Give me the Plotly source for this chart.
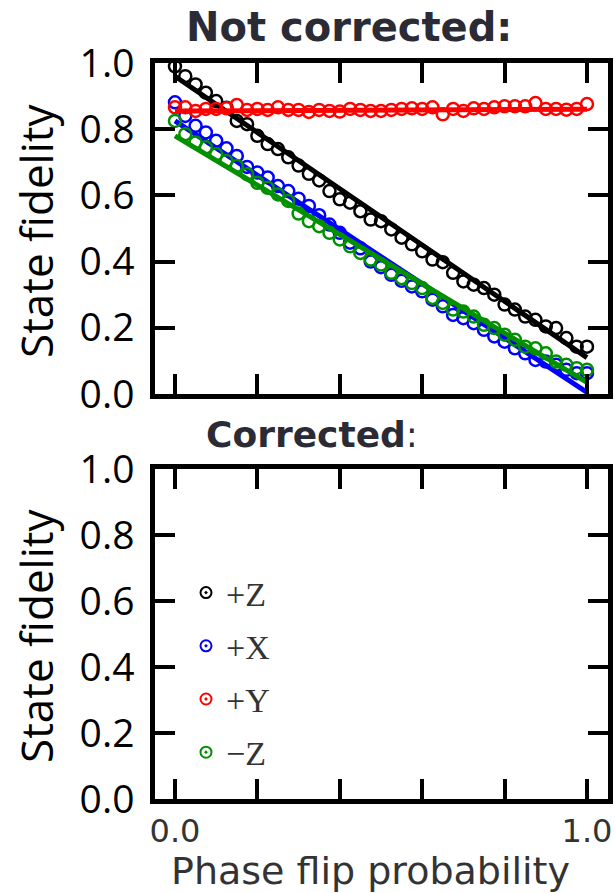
import plotly.graph_objects as go

# ---------------- data ----------------
phase_flip = [i * 0.025 for i in range(41)]  # 0.0 ... 1.0

fid_plus_z = [0.99, 0.96, 0.935, 0.91, 0.885, 0.865, 0.825, 0.815, 0.78, 0.755,
              0.74, 0.715, 0.69, 0.665, 0.645, 0.613, 0.588, 0.578, 0.552, 0.527,
              0.522, 0.497, 0.472, 0.452, 0.431, 0.406, 0.398, 0.366, 0.34, 0.33,
              0.32, 0.30, 0.27, 0.255, 0.234, 0.224, 0.204, 0.199, 0.169, 0.143, 0.143]

fid_plus_x = [0.881, 0.84, 0.81, 0.79, 0.765, 0.742, 0.719, 0.686, 0.669, 0.654,
              0.628, 0.613, 0.59, 0.568, 0.54, 0.512, 0.487, 0.457, 0.44, 0.40,
              0.383, 0.36, 0.342, 0.325, 0.31, 0.285, 0.265, 0.239, 0.229, 0.214,
              0.194, 0.174, 0.158, 0.138, 0.123, 0.103, 0.098, 0.088, 0.073, 0.063, 0.063]

fid_plus_y = [0.866, 0.866, 0.855, 0.861, 0.861, 0.863, 0.873, 0.858, 0.861, 0.858,
              0.866, 0.858, 0.858, 0.852, 0.858, 0.855, 0.853, 0.861, 0.858, 0.855,
              0.855, 0.858, 0.861, 0.863, 0.861, 0.866, 0.845, 0.861, 0.855, 0.863,
              0.861, 0.866, 0.869, 0.869, 0.869, 0.879, 0.861, 0.861, 0.859, 0.861, 0.876]

fid_minus_z = [0.825, 0.785, 0.76, 0.745, 0.724, 0.704, 0.689, 0.664, 0.638, 0.623,
               0.603, 0.583, 0.545, 0.522, 0.507, 0.487, 0.467, 0.446, 0.426, 0.406,
               0.391, 0.366, 0.35, 0.335, 0.32, 0.29, 0.275, 0.255, 0.249, 0.234,
               0.209, 0.199, 0.179, 0.164, 0.143, 0.138, 0.123, 0.098, 0.088, 0.078, 0.073]

# fitted lines (end points)
fit_x = [0.0, 1.0]
fit_plus_z = [0.96, 0.11]
fit_plus_x = [0.825, 0.005]
fit_plus_y = [0.855, 0.860]
fit_minus_z = [0.78, 0.035]

series_names = ["+Z", "+X", "+Y", "\u2212Z"]
series_colors = ["#000000", "#0000ff", "#ff0000", "#009000"]
points = [fid_plus_z, fid_plus_x, fid_plus_y, fid_minus_z]
fits = [fit_plus_z, fit_plus_x, fit_plus_y, fit_minus_z]

y_ticks = [0.0, 0.2, 0.4, 0.6, 0.8, 1.0]
y_ticktext = ["0.0", "0.2", "0.4", "0.6", "0.8", "1.0"]
x_ticks = [0.0, 0.2, 0.4, 0.6, 0.8, 1.0]
x_ticktext = ["0.0", "", "", "", "", "1.0"]

# ---------------- figure ----------------
fig = go.Figure()

for name, col, pts, ft in zip(series_names, series_colors, points, fits):
    fig.add_trace(go.Scatter(
        x=phase_flip, y=pts, mode="markers", xaxis="x", yaxis="y",
        marker=dict(symbol="circle-open", size=12, color=col, line=dict(width=2.5, color=col)),
        showlegend=False, cliponaxis=False, hoverinfo="skip"))
    fig.add_trace(go.Scatter(
        x=fit_x, y=ft, mode="lines", xaxis="x", yaxis="y",
        line=dict(color=col, width=5), showlegend=False, hoverinfo="skip"))

# legend entries (shown in the lower "Corrected" panel)
for name, col in zip(series_names, series_colors):
    fig.add_trace(go.Scatter(
        x=[None], y=[None], mode="markers", xaxis="x2", yaxis="y2", name=name,
        legendgroup=name,
        marker=dict(symbol="circle-open-dot", size=11, color=col, line=dict(width=2, color=col)),
        showlegend=True))

axis_common = dict(
    showline=True, linewidth=4.5, linecolor="black", mirror="allticks",
    ticks="inside", ticklen=20, tickwidth=4, tickcolor="black",
    showgrid=False, zeroline=False, automargin=False,
)

x_range = [-0.0485, 1.051]
x_dom = [155 / 615, 608 / 615]

fig.update_layout(
    width=615, height=893,
    margin=dict(l=0, r=0, t=0, b=0, autoexpand=False),
    paper_bgcolor="white", plot_bgcolor="white",
    xaxis=dict(domain=x_dom, range=x_range, anchor="y", tickvals=x_ticks,
               showticklabels=False, **axis_common),
    yaxis=dict(domain=[0.5588, 0.9295], range=[0, 1], anchor="x", tickvals=y_ticks,
               ticktext=y_ticktext, ticklabelstandoff=8,
               tickfont=dict(family="Open Sans", size=39, color="black"), **axis_common),
    xaxis2=dict(domain=x_dom, range=x_range, anchor="y2", tickvals=x_ticks,
                ticktext=x_ticktext, ticklabelstandoff=0,
                tickfont=dict(family="DejaVu Sans", size=32, color="#333333"), **axis_common),
    yaxis2=dict(domain=[0.1053, 0.4748], range=[0, 1], anchor="x2", tickvals=y_ticks,
                ticktext=y_ticktext, ticklabelstandoff=8,
                tickfont=dict(family="Open Sans", size=39, color="black"), **axis_common),
    legend=dict(x=186 / 615, y=(893 - 564) / 893, xanchor="left", yanchor="top",
                bgcolor="rgba(0,0,0,0)", borderwidth=0, tracegroupgap=6,
                font=dict(family="Liberation Serif", size=34, color="#333333")),
    showlegend=True,
)

title_color = "#2b2b35"
fig.add_annotation(text="<b>Not corrected:</b>", xref="paper", yref="paper",
                   x=349 / 615, y=(893 - 27) / 893, xanchor="center", yanchor="middle",
                   showarrow=False, font=dict(family="DejaVu Sans", size=40, color=title_color))
fig.add_annotation(text="<b>Corrected</b>:", xref="paper", yref="paper",
                   x=312 / 615, y=(893 - 434) / 893, xanchor="center", yanchor="middle",
                   showarrow=False, font=dict(family="DejaVu Sans", size=36, color=title_color))
for yc in [231, 636]:
    fig.add_annotation(text="State fidelity", xref="paper", yref="paper",
                       x=36 / 615, y=(893 - yc) / 893, xanchor="center", yanchor="middle",
                       textangle=-90, showarrow=False,
                       font=dict(family="Open Sans", size=44, color="black"))
fig.add_annotation(text="Phase flip probability", xref="paper", yref="paper",
                   x=370 / 615, y=(893 - 871) / 893, xanchor="center", yanchor="middle",
                   showarrow=False, font=dict(family="DejaVu Sans", size=38, color="#333333"))

fig.write_html("out.html", config={"displayModeBar": False},
               post_script="document.body.style.margin='0';document.body.style.overflow='hidden';")
